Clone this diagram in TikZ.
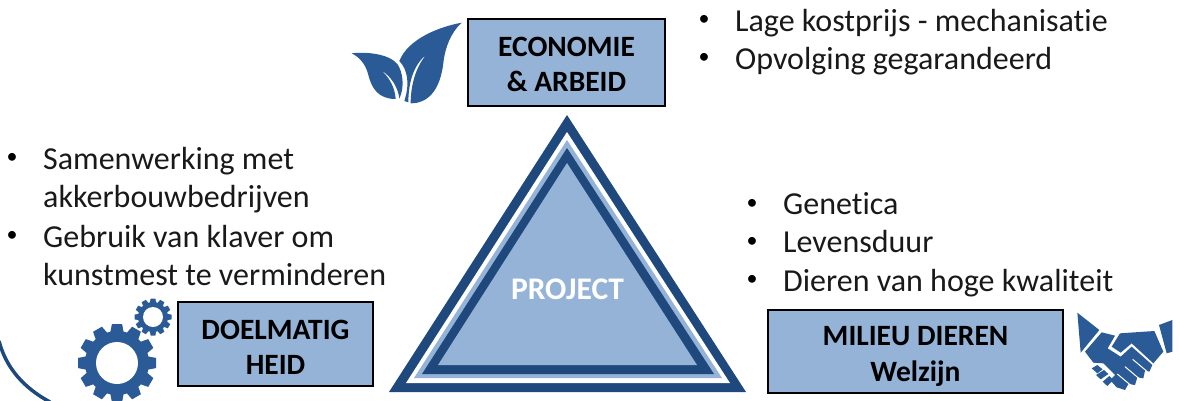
\documentclass[tikz,border=0pt]{standalone}
\usepackage{fontspec}
\setmainfont[RawFeature=-liga]{Carlito}
\tikzstyle{itemnode} = [anchor=base west, inner sep=0pt, font=\fontsize{32}{38}\selectfont, text=black!90]
\tikzstyle{bulletnode} = [anchor=center, inner sep=0pt, font=\fontsize{22}{24}\selectfont]
\tikzstyle{pillarnode} = [draw=black, line width=1.6pt, fill=boxBlue, align=center, font=\fontsize{29.5}{35.5}\selectfont\bfseries, inner sep=0pt]
\definecolor{boxBlue}{HTML}{95B3D7}
\definecolor{darkBlue}{HTML}{1F497D}
\definecolor{iconBlue}{HTML}{2A5B96}
\newcommand{\gearicon}[4]{% x, y, tooth and body radius
  \fill[iconBlue] (#1,#2) circle[radius=#4];
  \foreach \a in {0,30,...,330} {
    \fill[iconBlue, shift={(#1,#2)}, rotate=\a] (#4-1,-0.17*#3) -- (#3,-0.13*#3) -- (#3,0.13*#3) -- (#4-1,0.17*#3) -- cycle;
  }
}
\begin{document}
\begin{tikzpicture}[x=1pt,y=-1pt]
\useasboundingbox (0,0) rectangle (1180,400);

% triangle
\fill[darkBlue] (567,115) -- (746,392) -- (389,392) -- cycle;
\fill[white] (567,132) -- (730,383) -- (406,383) -- cycle;
\fill[boxBlue] (567,140) -- (722,378) -- (414,378) -- cycle;
\fill[darkBlue] (567,148) -- (714,374) -- (422,374) -- cycle;
\fill[boxBlue] (567,163) -- (697,365) -- (438,365) -- cycle;
\node[inner sep=0pt, text=white, font=\fontsize{31.5}{36}\selectfont\bfseries] (project) at (567.5,289) {PROJECT};

% boxes
\node[pillarnode, minimum width=197pt, minimum height=87pt] (economie) at (566.5,62.5) {\rule{0pt}{23pt}ECONOMIE\\\& ARBEID};
\node[pillarnode, minimum width=195pt, minimum height=84pt] (doelmatig) at (275.5,344) {\rule{0pt}{26pt}DOELMATIG\\HEID};
\node[pillarnode, minimum width=295pt, minimum height=83pt] (milieu) at (915.5,351.5) {\rule{0pt}{29pt}MILIEU DIEREN\\Welzijn};

% top right
\node[bulletnode] (b1) at (704,20.5) {•};
\node[itemnode] (kostprijs) at (735,31) {Lage kostprijs - mechanisatie};
\node[bulletnode] (b2) at (704,58.5) {•};
\node[itemnode] (opvolging) at (735,69) {Opvolging gegarandeerd};

% left
\node[bulletnode] (b3) at (12,158) {•};
\node[itemnode] (samen) at (43,169) {Samenwerking met};
\node[itemnode] (akker) at (43,207) {akkerbouwbedrijven};
\node[bulletnode] (b4) at (12,236) {•};
\node[itemnode] (klaver) at (43,247) {Gebruik van klaver om};
\node[itemnode] (kunstmest) at (43,285) {kunstmest te verminderen};

% right
\node[bulletnode] (b5) at (752,204) {•};
\node[itemnode] (genetica) at (783,214.5) {Genetica};
\node[bulletnode] (b6) at (752,242) {•};
\node[itemnode] (levensduur) at (783,252.5) {Levensduur};
\node[bulletnode] (b7) at (752,280) {•};
\node[itemnode] (dieren) at (783,291) {Dieren van hoge kwaliteit};

% corner arc
\draw[darkBlue, line width=3.5pt] (-1,341) .. controls (6,368) and (24,388) .. (50,402);

% leaves
\begin{scope}[shift={(340,0)}, scale=1/3]
  \fill[iconBlue] (365,68) .. controls (300,80) and (205,115) .. (178,183)
    .. controls (203,210) and (210,250) .. (193,303) -- (205,307)
    .. controls (205,250) and (220,195) .. (258,165)
    .. controls (225,205) and (212,260) .. (212,310)
    .. controls (265,310) and (300,270) .. (310,190)
    .. controls (315,140) and (335,95) .. (365,68) -- cycle;
  \fill[iconBlue] (35,160) .. controls (75,155) and (145,160) .. (172,192)
    .. controls (188,215) and (195,260) .. (178,296)
    .. controls (175,265) and (155,230) .. (125,212)
    .. controls (150,235) and (165,265) .. (167,297)
    .. controls (115,297) and (95,265) .. (85,225)
    .. controls (78,195) and (60,172) .. (35,160) -- cycle;
\end{scope}

% gears
\gearicon{117}{363}{39}{32}
\fill[white] (117,363) circle[radius=21];
\gearicon{153}{317}{18.5}{15}
\fill[white] (153,317) circle[radius=10];

% handshake
\begin{scope}[shift={(1060,300)}, scale=1/3]
  \fill[iconBlue] (52,38) -- (118,90) -- (62,158) -- cycle;
  \fill[iconBlue] (297,75) -- (337,60) -- (337,155) -- (320,160) -- cycle;
  \fill[iconBlue] (180,100) -- (283,93) -- (310,155) -- (280,190) -- (215,130) -- (182,158) -- (155,140) -- cycle;
  \fill[iconBlue] (75,155) -- (125,97) -- (165,107) -- (143,145) -- (182,170) -- (215,140) -- (277,195) -- (268,215) -- (255,212) -- (250,235) -- (232,232) -- (225,255) -- (205,252) -- (195,270) -- (170,262) -- (150,240) -- (165,225) -- (130,190) -- (100,188) -- cycle;
  \fill[iconBlue] (95,205) -- (112,195) -- (128,208) -- (112,220) -- cycle;
  \fill[iconBlue] (108,225) -- (132,210) -- (145,222) -- (122,238) -- cycle;
  \fill[iconBlue] (128,245) -- (148,228) -- (160,240) -- (142,258) -- cycle;
  \draw[white, line width=1pt] (218,178) -- (262,215);
  \draw[white, line width=1pt] (195,200) -- (240,238);
  \draw[white, line width=1pt] (172,222) -- (215,258);
\end{scope}
\end{tikzpicture}
\end{document}
